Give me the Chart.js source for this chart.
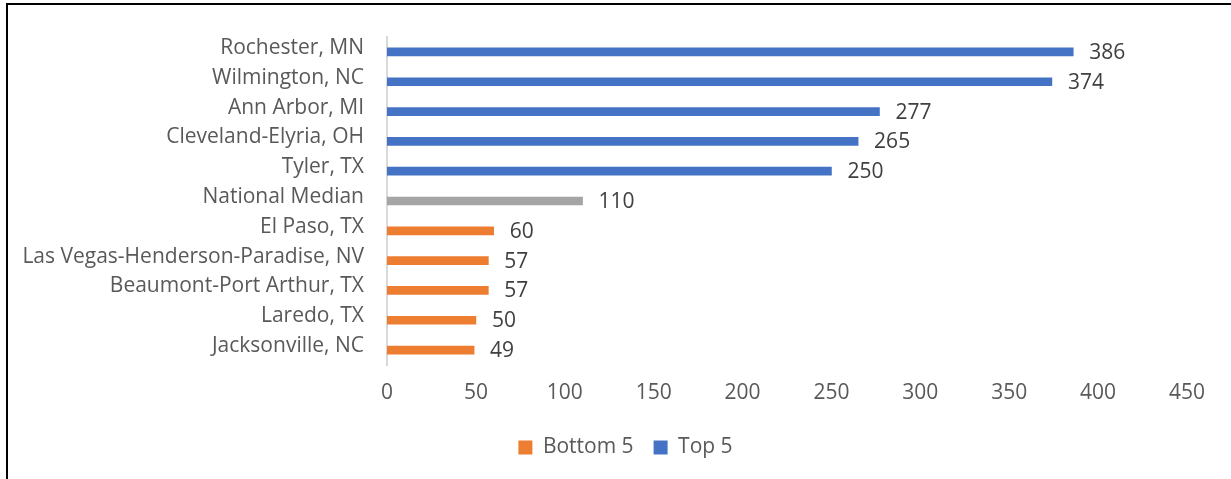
<!DOCTYPE html>
<html>
<head>
<meta charset="utf-8">
<script src="https://cdn.jsdelivr.net/npm/chart.js@4.4.1/dist/chart.umd.min.js"></script>
<style>
  html, body { margin: 0; padding: 0; background: #fff; }
  #wrap { position: relative; width: 1231px; height: 479px; overflow: hidden; }
  #frame { position: absolute; left: 6px; top: 3px; width: 1300px; height: 600px;
           border-top: 2px solid #000; border-left: 2px solid #000; }
  #box { position: absolute; left: 0; top: 0; width: 1231px; height: 479px; }
</style>
</head>
<body>
<div id="wrap">
  <div id="frame"></div>
  <div id="box"><canvas id="chart"></canvas></div>
</div>
<script>
// metros, top to bottom
const cities = ['Rochester, MN', 'Wilmington, NC', 'Ann Arbor, MI', 'Cleveland-Elyria, OH', 'Tyler, TX',
  'National Median', 'El Paso, TX', 'Las Vegas-Henderson-Paradise, NV', 'Beaumont-Port Arthur, TX',
  'Laredo, TX', 'Jacksonville, NC'];
const top5 = [386, 374, 277, 265, 250];
const medianValue = 110;
const bottom5 = [60, 57, 57, 50, 49];
const xTicks = [0, 50, 100, 150, 200, 250, 300, 350, 400, 450];

// spread each group over the full category list (null = no bar)
const topData = cities.map((c, i) => i < 5 ? top5[i] : null);
const medData = cities.map((c, i) => i === 5 ? medianValue : null);
const botData = cities.map((c, i) => i > 5 ? bottom5[i - 6] : null);

const FONT = { family: "'Open Sans', sans-serif", size: 21 };

// value labels at the end of each bar
const valueLabels = {
  id: 'valueLabels',
  afterDatasetsDraw(chart) {
    const ctx = chart.ctx;
    ctx.save();
    ctx.font = "21px 'Open Sans', sans-serif";
    ctx.fillStyle = '#404040';
    ctx.textAlign = 'left';
    ctx.textBaseline = 'middle';
    chart.data.datasets.forEach((ds, di) => {
      const meta = chart.getDatasetMeta(di);
      meta.data.forEach((bar, i) => {
        if (ds.data[i] == null) return;
        ctx.fillText(ds.data[i], bar.x + 16, bar.y + 1);
      });
    });
    ctx.restore();
  }
};

new Chart(document.getElementById('chart').getContext('2d'), {
  type: 'bar',
  data: {
    labels: cities,
    datasets: [
      { label: 'Bottom 5', data: botData, backgroundColor: '#ED7D31', grouped: false, barThickness: 8 },
      { label: 'Top 5', data: topData, backgroundColor: '#4472C4', grouped: false, barThickness: 8 },
      { label: 'National Median', data: medData, backgroundColor: '#A5A5A5', grouped: false, barThickness: 8 }
    ]
  },
  options: {
    indexAxis: 'y',
    responsive: true,
    maintainAspectRatio: false,
    animation: false,
    layout: { padding: { left: 20, top: 37, right: 0, bottom: 11 } },
    plugins: {
      tooltip: { enabled: false },
      legend: {
        position: 'bottom',
        labels: {
          font: FONT,
          color: '#595959',
          boxWidth: 14,
          boxHeight: 14,
          padding: 20,
          filter: item => item.text !== 'National Median'
        }
      }
    },
    scales: {
      x: {
        min: 0,
        max: 450,
        afterBuildTicks: s => { s.ticks = xTicks.map(v => ({ value: v })); },
        grid: { display: false, drawTicks: false },
        border: { display: false },
        ticks: { font: FONT, color: '#595959', padding: 15 },
        afterFit: s => { s.height = 52; }
      },
      y: {
        grid: { display: false, drawTicks: false },
        border: { color: '#D9D9D9', width: 2 },
        ticks: { font: FONT, color: '#595959', padding: 23, autoSkip: false, labelOffset: -4 },
        afterFit: s => { s.width = 367; }
      },
      yRight: {
        type: 'linear',
        position: 'right',
        grid: { display: false, drawTicks: false },
        border: { display: false },
        ticks: { display: false },
        afterFit: s => { s.width = 44; }
      }
    }
  },
  plugins: [valueLabels]
});
</script>
</body>
</html>
